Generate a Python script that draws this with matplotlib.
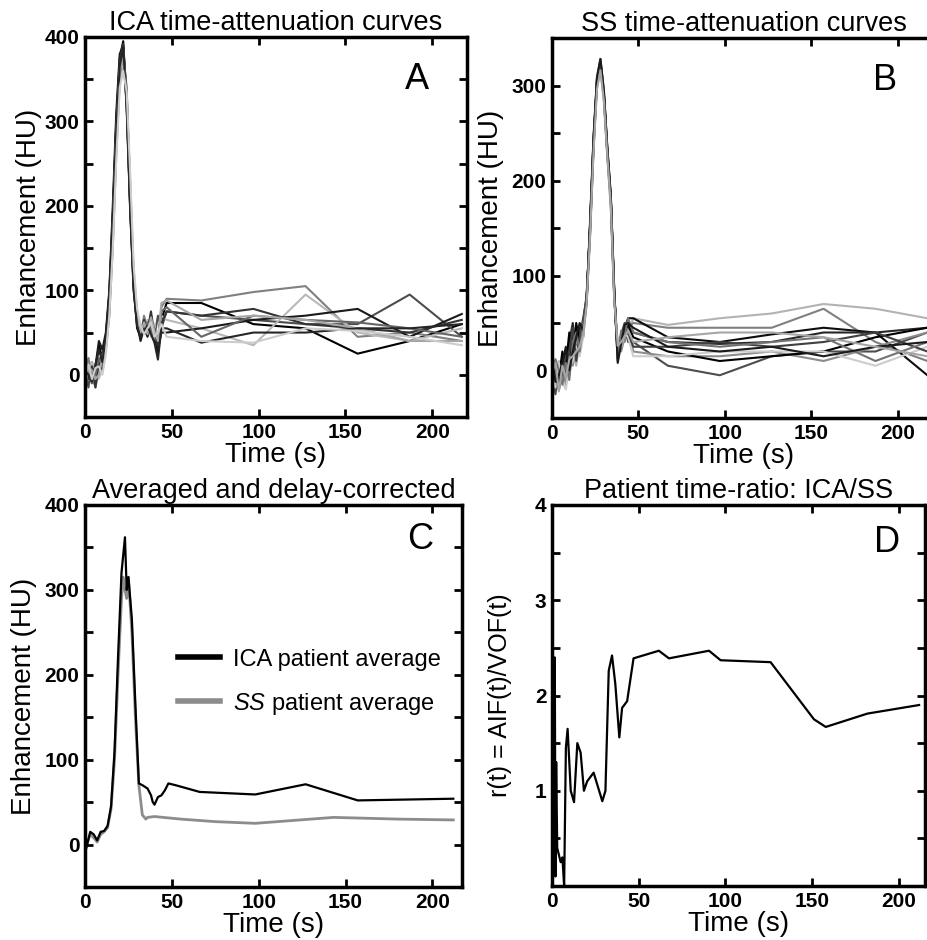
import matplotlib
matplotlib.use("Agg")
import matplotlib.pyplot as plt
from matplotlib.ticker import MultipleLocator, FixedLocator

plt.rcParams['font.family'] = ['Liberation Sans', 'DejaVu Sans']
plt.rcParams['mathtext.fontset'] = 'custom'
plt.rcParams['mathtext.it'] = 'Liberation Sans:italic'
plt.rcParams['mathtext.rm'] = 'Liberation Sans'

# ---------------- data ----------------
t_curves = [0, 2, 4, 6, 8, 10, 12, 14, 16, 18, 20, 22, 24, 26, 28, 30, 32, 34, 36, 38, 40, 42, 44,
            47, 67, 97, 127, 157, 187, 217]

ica_curves = [
    [-5, 10, -10, 5, 35, 20, 45, 95, 190, 300, 375, 395, 320, 200, 105, 55, 45, 60, 50, 70, 40, 25, 65, 85, 85, 60, 55, 25, 40, 60],
    [5, -15, 15, -12, 10, 25, 40, 80, 170, 280, 360, 385, 330, 210, 110, 65, 50, 55, 60, 50, 45, 70, 55, 75, 70, 65, 60, 60, 95, 45],
    [0, 20, 0, -15, 5, 15, 30, 70, 150, 260, 350, 380, 340, 220, 120, 70, 45, 70, 55, 60, 50, 40, 80, 90, 88, 98, 105, 45, 50, 40],
    [10, 0, 15, 5, -5, 10, 35, 85, 160, 270, 345, 370, 330, 230, 125, 75, 55, 50, 65, 45, 60, 35, 70, 65, 55, 35, 95, 50, 40, 55],
    [-10, 5, -5, 10, 40, 30, 50, 100, 200, 310, 380, 390, 315, 195, 100, 60, 40, 55, 45, 60, 55, 30, 50, 50, 55, 65, 70, 78, 45, 72],
    [0, -5, 10, -15, 15, 5, 40, 90, 180, 295, 370, 392, 325, 205, 108, 62, 48, 65, 52, 75, 48, 35, 60, 75, 70, 78, 60, 55, 50, 65],
    [15, 5, -10, 0, 20, 10, 35, 75, 165, 275, 355, 385, 335, 215, 115, 68, 52, 58, 62, 55, 42, 45, 75, 80, 45, 70, 65, 62, 55, 45],
    [-15, 10, 5, -5, 0, 20, 30, 80, 175, 285, 360, 375, 325, 225, 118, 72, 50, 62, 48, 68, 52, 40, 85, 88, 65, 70, 65, 55, 40, 40],
    [5, 0, -8, 12, 30, 15, 45, 95, 185, 290, 365, 388, 318, 198, 102, 58, 44, 52, 58, 48, 38, 18, 55, 55, 38, 50, 50, 55, 55, 60],
    [0, 12, -5, 8, 10, 0, 25, 70, 150, 255, 340, 360, 335, 240, 130, 78, 58, 48, 55, 62, 45, 50, 60, 45, 40, 38, 55, 52, 45, 35],
]
ica_grays = ['0.0', '0.3', '0.5', '0.72', '0.1', '0.2', '0.4', '0.65', '0.15', '0.8']

ss_curves = [
    [5, -15, 10, -5, 15, 0, 20, 5, 30, 45, 70, 160, 245, 300, 320, 285, 225, 170, 75, 25, 35, 50, 40, 55, 48, 55, 60, 70, 65, 55],
    [-10, 5, -20, 10, 0, 25, 10, 35, 20, 50, 80, 150, 240, 310, 328, 295, 235, 185, 85, 15, 40, 30, 45, 50, 45, 45, 45, 65, 30, 10],
    [0, -20, 5, -10, 20, 10, 35, 15, 40, 35, 75, 145, 235, 305, 325, 290, 230, 180, 80, 20, 25, 45, 55, 55, 35, 30, 38, 45, 40, -5],
    [10, 0, -15, 15, -5, 30, 50, 20, 45, 40, 72, 155, 240, 302, 322, 288, 228, 178, 78, 22, 30, 40, 50, 40, 30, 28, 30, 40, 40, 45],
    [-5, -25, 0, -10, 10, -5, 25, 45, 25, 50, 78, 148, 238, 306, 326, 292, 232, 182, 82, 10, 38, 50, 30, 30, 5, -5, 15, 20, 20, 40],
    [15, -10, -5, 5, -15, 15, 5, 30, 35, 40, 70, 140, 232, 300, 318, 286, 226, 176, 76, 28, 20, 35, 45, 20, 15, 15, 20, 10, 25, 40],
    [-15, 10, -8, 20, 5, 40, 15, 50, 30, 45, 74, 152, 242, 304, 324, 290, 230, 180, 80, 18, 32, 42, 48, 35, 20, 10, 15, 20, 35, 45],
    [0, -18, 8, -12, -20, 5, 10, 25, 15, 35, 68, 145, 238, 298, 315, 282, 224, 172, 72, 30, 25, 40, 35, 15, 15, 20, 20, 20, 5, 25],
    [5, -5, -20, 0, 15, 20, 45, 10, 35, 55, 76, 150, 236, 303, 323, 289, 229, 179, 79, 15, 35, 45, 40, 25, 25, 30, 25, 30, 40, 20],
    [-8, 12, 0, -15, 8, -10, 30, 40, 20, 48, 72, 146, 244, 307, 327, 293, 233, 183, 83, 12, 42, 38, 55, 40, 30, 25, 30, 35, 10, 30],
    [12, -12, -5, 8, 25, 0, 20, 35, 50, 42, 73, 154, 246, 308, 328, 294, 234, 184, 84, 8, 28, 48, 50, 45, 25, 20, 25, 15, 25, 30],
    [-3, 8, -22, 5, -8, 12, 15, 20, 25, 38, 70, 142, 230, 296, 316, 284, 226, 174, 74, 26, 30, 36, 42, 30, 35, 40, 40, 35, 25, 15],
]
ss_grays = ['0.7', '0.5', '0.05', '0.15', '0.3', '0.55', '0.0', '0.8', '0.25', '0.45', '0.1', '0.65']

t_ica_avg = [0, 1, 3, 5, 7, 9, 11, 13, 15, 17, 19, 21, 23, 24, 25, 27, 29, 31, 33, 36, 38, 39, 40, 42, 44, 46, 48, 52, 66, 98, 127, 157, 212]
ica_avg = [-10, -2, 15, 12, 5, 15, 16, 22, 45, 110, 220, 320, 362, 300, 315, 265, 165, 72, 70, 66, 58, 50, 47, 56, 58, 64, 72, 70, 62, 59, 71, 52, 54]

t_ss_avg = [0, 1, 3, 5, 7, 9, 11, 13, 15, 17, 19, 21, 22, 23, 24, 25, 27, 29, 31, 33, 35, 36, 40, 45, 55, 75, 98, 143, 180, 212]
ss_avg = [-8, 0, 12, 8, 3, 12, 15, 20, 42, 100, 200, 290, 315, 300, 290, 315, 250, 150, 70, 35, 30, 32, 33, 32, 30, 27, 25, 32, 30, 29]

t_ratio = [0, 0.4, 0.8, 1.2, 1.6, 2.0, 2.4, 3, 5, 6, 7, 8, 9, 10.8, 12.7, 14.6, 16.5, 18.4, 20.3, 24, 29, 30.8,
           32.7, 34.6, 36.5, 38.8, 40.4, 43.3, 47, 61.6, 67.4, 90.5, 97.2, 126, 151, 157.8, 181.8, 211.6]
ratio = [0.5, 2.5, 1.2, 0.3, 2.4, 0.1, 1.3, 0.4, 0.25, 0.3, 0.0, 1.45, 1.65, 1.0, 0.88, 1.5, 1.4, 1.0, 1.1, 1.19, 0.89, 1.0,
         2.26, 2.42, 2.12, 1.56, 1.87, 1.94, 2.39, 2.47, 2.39, 2.47, 2.37, 2.35, 1.75, 1.67, 1.81, 1.9]

titles = ["ICA time-attenuation curves", "SS time-attenuation curves",
          "Averaged and delay-corrected", "Patient time-ratio: ICA/SS"]
letters = ["A", "B", "C", "D"]
xlabel = "Time (s)"
ylabels = ["Enhancement (HU)", "Enhancement (HU)", "Enhancement (HU)", "r(t) = AIF(t)/VOF(t)"]
legend_labels = ["ICA patient average", r"$\it{SS}$ patient average"]

# ---------------- figure ----------------
fig = plt.figure(figsize=(9.28, 9.40), dpi=100)
W, H = 928, 940

def mkax(l, t, r, b):
    return fig.add_axes([l / W, 1 - b / H, (r - l) / W, (b - t) / H])

axA = mkax(85, 37, 467, 417)
axB = mkax(552, 38, 936, 418)
axC = mkax(85, 505, 462, 887)
axD = mkax(552, 505, 925, 886)
axes = [axA, axB, axC, axD]

for y, g in zip(ica_curves, ica_grays):
    axA.plot(t_curves, y, color=g, lw=1.5)
for y, g in zip(ss_curves, ss_grays):
    axB.plot(t_curves, y, color=g, lw=1.5)

axC.plot(t_ss_avg, ss_avg, color='0.55', lw=2.0, label=legend_labels[1], zorder=2)
axC.plot(t_ica_avg, ica_avg, color='0.0', lw=1.6, label=legend_labels[0], zorder=3)
h, l = axC.get_legend_handles_labels()
leg = axC.legend([h[1], h[0]], [l[1], l[0]], loc='center left', bbox_to_anchor=(0.19, 0.535),
                 frameon=False, fontsize=17, handlelength=1.8, handletextpad=0.55, labelspacing=0.85)
for lh in leg.get_lines():
    lh.set_linewidth(4)

axD.plot(t_ratio, ratio, color='0.0', lw=1.6)

axA.set_xlim(0, 220); axA.set_ylim(-50, 400)
axB.set_xlim(0, 222); axB.set_ylim(-50, 350)
axC.set_xlim(0, 217); axC.set_ylim(-50, 400)
axD.set_xlim(0, 215); axD.set_ylim(0, 4)

for ax in (axA, axB, axC):
    ax.yaxis.set_major_locator(MultipleLocator(100))
    ax.yaxis.set_minor_locator(MultipleLocator(50))
axD.yaxis.set_major_locator(FixedLocator([1, 2, 3, 4]))
axD.yaxis.set_minor_locator(MultipleLocator(0.5))

letter_pos = [(0.90, 0.935), (0.90, 0.935), (0.923, 0.955), (0.933, 0.948)]
ylabel_sizes = [20, 20, 20, 18]
ylabel_pads = [2, 5, 5, 16]
for ax, ttl, let, yl, lp, ys, yp in zip(axes, titles, letters, ylabels, letter_pos, ylabel_sizes, ylabel_pads):
    ax.xaxis.set_major_locator(MultipleLocator(50))
    ax.tick_params(which='both', direction='in', top=True, right=True, length=6, width=2,
                   labelsize=15, pad=4)
    for lab in ax.get_xticklabels() + ax.get_yticklabels():
        lab.set_fontweight('bold')
    for s in ax.spines.values():
        s.set_linewidth(2.5)
    ax.set_title(ttl, fontsize=19.5, pad=5)
    ax.set_xlabel(xlabel, fontsize=20, labelpad=0)
    ax.set_ylabel(yl, fontsize=ys, labelpad=yp)
    ax.text(lp[0], lp[1], let, transform=ax.transAxes, fontsize=26, ha='right', va='top')

fig.savefig("out.png", dpi=100)
